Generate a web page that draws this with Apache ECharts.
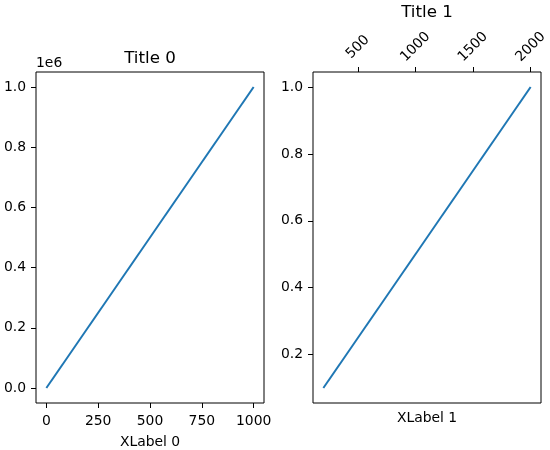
<!DOCTYPE html>
<html>
<head>
<meta charset="utf-8">
<script src="https://cdn.jsdelivr.net/npm/echarts@6/dist/echarts.min.js"></script>
<style>
  html, body { margin: 0; padding: 0; background: #fff; }
  #main { width: 550px; height: 450px; }
</style>
</head>
<body>
<div id="main"></div>
<script>
// left panel data
var x0 = [0, 1000];
var y0 = [0, 1000000];
var x0Ticks = [0, 250, 500, 750, 1000];
var y0Ticks = [0, 200000, 400000, 600000, 800000, 1000000];
// right panel data
var x1 = [200, 2000];
var y1 = [0.1, 1.0];
var x1Ticks = [500, 1000, 1500, 2000];
var y1Ticks = [0.2, 0.4, 0.6, 0.8, 1.0];

(function () {
  var chartDom = document.getElementById('main');
  var myChart = echarts.init(chartDom);
  var font = 'DejaVu Sans';
  var tickFont = { color: '#000', fontSize: 13.9, fontFamily: font };

  function pairs(xs, ys) {
    return xs.map(function (x, i) { return [x, ys[i]]; });
  }
  // plain integers, no thousands separator
  function plain(v) { return String(v); }

  var tickStyle = { show: true, length: 5, lineStyle: { color: '#000', width: 1 } };
  // hide the axis line, the grid border draws the frame
  var noLine = { show: false, onZero: false };

  var option = {
    animation: false,
    title: [
      {
        text: 'Title 0', left: 150, top: 50, textAlign: 'center', padding: 0,
        textStyle: { fontSize: 16.7, fontWeight: 'normal', fontFamily: font, color: '#000' }
      },
      {
        text: 'Title 1', left: 427, top: 4, textAlign: 'center', padding: 0,
        textStyle: { fontSize: 16.7, fontWeight: 'normal', fontFamily: font, color: '#000' }
      }
    ],
    // fixed boxes, do not shrink to fit labels
    grid: [
      { left: 36, top: 72, width: 228, height: 331, outerBoundsMode: 'none', containLabel: false,
        show: true, borderColor: '#000', borderWidth: 1 },
      { left: 313, top: 72, width: 228, height: 331, outerBoundsMode: 'none', containLabel: false,
        show: true, borderColor: '#000', borderWidth: 1 }
    ],
    xAxis: [
      {
        gridIndex: 0, type: 'value', min: -50, max: 1050,
        splitLine: { show: false },
        axisLine: noLine,
        axisTick: Object.assign({ customValues: x0Ticks }, tickStyle),
        axisLabel: Object.assign({ customValues: x0Ticks, margin: 11, formatter: plain }, tickFont),
        name: 'XLabel 0', nameLocation: 'middle', nameGap: 32,
        nameTextStyle: { fontSize: 13.9, fontFamily: font, color: '#000' }
      },
      {
        gridIndex: 1, type: 'value', position: 'top', min: 110, max: 2090,
        splitLine: { show: false },
        axisLine: noLine,
        axisTick: Object.assign({ customValues: x1Ticks }, tickStyle),
        axisLabel: Object.assign({
          customValues: x1Ticks, rotate: -45, margin: 25, formatter: plain,
          align: 'center', verticalAlign: 'middle'
        }, tickFont)
      },
      {
        // bottom axis only carries the label
        gridIndex: 1, type: 'value', position: 'bottom', min: 110, max: 2090,
        splitLine: { show: false },
        axisLine: noLine,
        axisTick: { show: false },
        axisLabel: { show: false },
        name: 'XLabel 1', nameLocation: 'middle', nameGap: 8,
        nameTextStyle: { fontSize: 13.9, fontFamily: font, color: '#000' }
      }
    ],
    yAxis: [
      {
        gridIndex: 0, type: 'value', min: -50000, max: 1050000,
        splitLine: { show: false },
        axisLine: noLine,
        axisTick: Object.assign({ customValues: y0Ticks }, tickStyle),
        axisLabel: Object.assign({
          customValues: y0Ticks, margin: 10,
          formatter: function (v) { return (v / 1e6).toFixed(1); }
        }, tickFont),
        name: '1e6', nameLocation: 'end', nameGap: 2,
        nameTextStyle: { fontSize: 13.9, fontFamily: font, color: '#000', align: 'left', verticalAlign: 'bottom' }
      },
      {
        gridIndex: 1, type: 'value', min: 0.055, max: 1.045,
        splitLine: { show: false },
        axisLine: noLine,
        axisTick: Object.assign({ customValues: y1Ticks }, tickStyle),
        axisLabel: Object.assign({
          customValues: y1Ticks, margin: 10,
          formatter: function (v) { return v.toFixed(1); }
        }, tickFont)
      }
    ],
    series: [
      {
        type: 'line', xAxisIndex: 0, yAxisIndex: 0,
        data: pairs(x0, y0), symbol: 'none',
        lineStyle: { color: '#1f77b4', width: 2 }
      },
      {
        type: 'line', xAxisIndex: 1, yAxisIndex: 1,
        data: pairs(x1, y1), symbol: 'none',
        lineStyle: { color: '#1f77b4', width: 2 }
      }
    ]
  };

  option && myChart.setOption(option);
})();
</script>
</body>
</html>
